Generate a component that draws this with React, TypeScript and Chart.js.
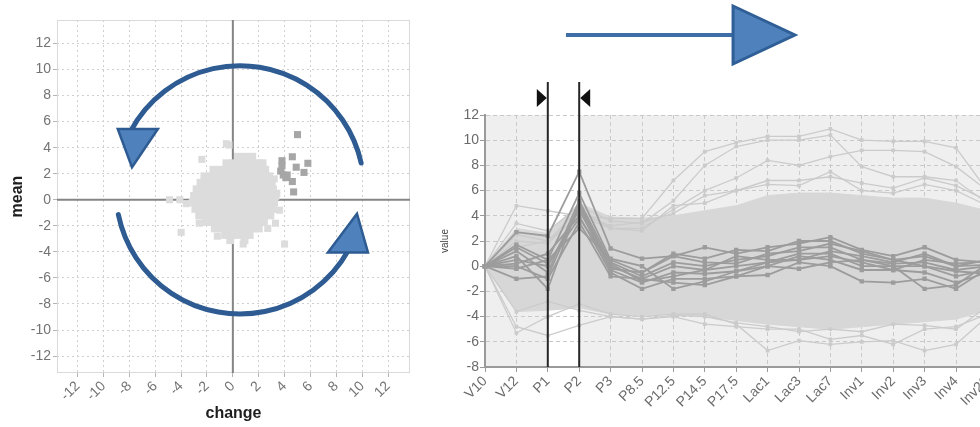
import React, { useEffect, useRef } from 'react';
import { Chart, registerables } from 'chart.js';

Chart.register(...registerables);

const FONT = '"Liberation Sans", Arial, sans-serif';

// ---------- Left: scatter (change vs mean) ----------
const scatterTicks = [-12, -10, -8, -6, -4, -2, 0, 2, 4, 6, 8, 10, 12];

const blobRowY = [3.3, 2.8, 2.3, 1.8, 1.3, 0.8, 0.3, -0.2, -0.7, -1.2, -1.7, -2.2, -2.7, -3.1];
const blobRowX = [
  [0.4, 1.0, 1.5],
  [-0.5, 0.0, 0.5, 1.0, 1.5, 2.0, 2.3],
  [-1.5, -1.0, -0.5, 0.0, 0.5, 1.0, 1.5, 2.0, 2.5],
  [-2.2, -1.7, -1.2, -0.7, -0.2, 0.3, 0.8, 1.3, 1.8, 2.3, 2.8],
  [-2.5, -2.0, -1.5, -1.0, -0.5, 0.0, 0.5, 1.0, 1.5, 2.0, 2.5, 3.0],
  [-2.8, -2.3, -1.8, -1.3, -0.8, -0.3, 0.2, 0.7, 1.2, 1.7, 2.2, 2.7, 3.1],
  [-3.0, -2.5, -2.0, -1.5, -1.0, -0.5, 0.0, 0.5, 1.0, 1.5, 2.0, 2.5, 3.0, 3.3],
  [-3.1, -2.6, -2.1, -1.6, -1.1, -0.6, -0.1, 0.4, 0.9, 1.4, 1.9, 2.4, 2.9, 3.2],
  [-2.9, -2.4, -1.9, -1.4, -0.9, -0.4, 0.1, 0.6, 1.1, 1.6, 2.1, 2.6, 3.1],
  [-2.6, -2.1, -1.6, -1.1, -0.6, -0.1, 0.4, 0.9, 1.4, 1.9, 2.4, 2.9],
  [-2.1, -1.6, -1.1, -0.6, -0.1, 0.4, 0.9, 1.4, 1.9, 2.4],
  [-1.4, -0.9, -0.4, 0.1, 0.6, 1.1, 1.6, 2.0],
  [-0.6, -0.1, 0.4, 0.9, 1.3],
  [-0.2, 0.9],
];

const lightOutliers = [
  [-0.5, 4.3], [-0.3, 4.2], [-2.4, 3.1], [-4.9, 0.0], [-4.1, 0.0], [-3.6, -0.3],
  [-4.0, -2.5], [4.0, -3.4], [0.8, -3.4], [3.4, 0.5], [3.3, -1.8], [2.7, -2.2],
  [-2.6, -1.8], [-1.2, -2.8], [3.2, 1.6], [3.6, -0.8],
];

const darkPoints = [
  [5.0, 5.0], [4.6, 3.3], [3.8, 3.0], [3.8, 2.6], [5.8, 2.8], [4.9, 2.5], [5.5, 2.1],
  [3.9, 1.9], [4.2, 1.9], [4.1, 1.7], [4.6, 1.4], [4.7, 0.6], [3.7, 2.2],
];

// rotation arrows (in data units of the scatter)
const arcCenter = { x: 0.55, y: 0.76 };
const arcRadius = 9.6;
const topArcDeg = [-12.5, -152];
const bottomArcDeg = [168.5, 29];
const headTopLeft = [[-8.9, 5.43], [-5.8, 5.43], [-7.8, 2.5]];
const headBottomRight = [[7.35, -4.05], [10.45, -4.05], [9.6, -1.07]];

// ---------- Right: profile (parallel coordinates) ----------
const stages = ['V10', 'V12', 'P1', 'P2', 'P3', 'P8.5', 'P12.5', 'P14.5', 'P17.5', 'Lac1', 'Lac3', 'Lac7', 'Inv1', 'Inv2', 'Inv3', 'Inv4', 'Inv20'];

const bandUpper = [0, 3.0, 2.6, 5.0, 3.9, 3.8, 4.0, 4.4, 4.8, 5.6, 5.8, 5.8, 5.6, 5.4, 5.4, 5.0, 4.4];
const bandLower = [0, -3.6, -3.5, -3.3, -3.8, -3.9, -3.8, -4.0, -4.3, -4.6, -4.8, -5.0, -4.8, -4.6, -4.4, -4.2, -3.5];

const lightLines = [
  [0, 4.8, 4.4, 4.0, 3.8, 3.8, 6.8, 9.1, 9.8, 10.3, 10.3, 10.9, 10.0, 9.9, 9.9, 9.4, 6.0],
  [0, 3.4, 2.8, 4.8, 3.6, 3.4, 5.2, 8.0, 9.5, 10.0, 10.0, 10.4, 7.9, 7.1, 7.1, 6.8, 5.0],
  [0, 2.5, 2.0, 4.5, 3.0, 3.0, 4.5, 6.0, 7.0, 8.4, 8.0, 8.7, 9.2, 9.2, 9.1, 7.9, 6.0],
  [0, 2.0, 1.8, 4.2, 3.2, 3.5, 4.2, 5.6, 6.0, 6.8, 6.8, 7.1, 6.6, 6.2, 7.0, 6.4, 5.2],
  [0, 1.5, 2.0, 4.0, 3.0, 2.8, 4.8, 5.0, 6.0, 6.5, 6.4, 7.5, 6.0, 5.8, 6.5, 6.0, 4.8],
  [0, -5.3, -4.0, -3.0, -3.8, -4.0, -3.8, -3.8, -4.6, -6.7, -5.9, -6.2, -6.0, -5.9, -6.7, -6.2, -4.0],
  [0, -4.8, -5.5, -4.7, -4.0, -4.2, -4.0, -4.6, -4.8, -5.0, -5.0, -5.8, -5.5, -6.2, -5.0, -4.8, -3.8],
  [0, -3.6, -2.8, -3.5, -4.0, -4.2, -3.9, -4.0, -4.5, -4.8, -5.2, -5.0, -5.2, -4.6, -4.7, -5.0, -3.2],
];

const darkLines = [
  [0, 2.7, 2.4, 7.5, 1.4, 0.6, 0.8, 1.5, 1.0, 1.5, 1.8, 2.3, 1.3, 0.8, 1.5, 0.5, 0.3],
  [0, 1.7, 0.5, 5.8, 0.5, -0.5, 1.0, 0.6, 1.3, 1.2, 2.0, 2.0, 1.0, 0.5, 0.8, 0.0, 0.5],
  [0, 1.2, -0.5, 5.2, 0.3, -0.8, 0.3, 0.0, 0.5, 0.8, 1.5, 1.5, 0.5, 0.2, 0.3, -0.3, 0.0],
  [0, 0.8, -1.8, 5.0, 0.0, -1.0, 0.0, -0.3, 0.0, 0.3, 1.0, 1.0, 0.0, 0.0, 0.0, -0.8, -0.3],
  [0, 0.5, 0.0, 4.5, -0.3, -1.3, -0.5, -0.6, -0.4, 0.0, 0.8, 0.5, -0.3, -0.3, -0.5, -1.3, -0.5],
  [0, 0.2, 1.0, 4.0, -0.5, -1.8, -1.0, -1.0, -0.8, -0.7, 0.3, 0.0, -1.2, -1.3, -1.0, -1.8, -0.2],
  [0, 0.0, -1.0, 3.5, -0.8, -1.0, -1.3, -1.5, -0.8, 0.0, -0.2, 0.3, 0.5, 0.0, -1.8, -1.5, 0.2],
  [0, -0.2, 0.5, 3.0, 0.6, 0.0, -1.8, -1.2, -0.4, 0.3, 0.5, 0.8, 0.3, -0.3, 0.5, 0.2, 0.4],
  [0, -1.0, -0.8, 4.8, -0.2, -0.5, 0.8, 0.3, 0.2, 1.0, 1.2, 1.8, 1.2, 0.5, 0.0, -0.4, -0.6],
  [0, 1.5, 0.2, 3.8, 0.2, -1.2, -0.8, -0.3, 0.8, 0.5, 0.5, 1.2, 0.8, 0.3, 1.0, 0.0, 0.1],
];

const brushStages = ['P1', 'P2'];
// direction arrow above profile chart (x in stage-index units, y in px from top)
const dirArrow = { start: 2.58, base: 7.9, tip: 9.87, y: 35, half: 29 };

const leftDecor = {
  id: 'leftDecor',
  beforeDatasetsDraw(chart: any) {
    const { ctx, chartArea: a, scales } = chart;
    const x = scales.x, y = scales.y;
    ctx.save();
    ctx.strokeStyle = '#d9d9d9';
    ctx.lineWidth = 1;
    ctx.strokeRect(a.left + 0.5, a.top + 0.5, a.right - a.left - 1, a.bottom - a.top - 1);
    const x0 = x.getPixelForValue(0);
    const y0 = y.getPixelForValue(0);
    ctx.strokeStyle = '#858585';
    ctx.lineWidth = 2;
    ctx.beginPath();
    ctx.moveTo(x0, a.top);
    ctx.lineTo(x0, a.bottom);
    ctx.moveTo(a.left, y0);
    ctx.lineTo(a.right, y0);
    ctx.stroke();
    ctx.restore();
  },
  afterDatasetsDraw(chart: any) {
    const { ctx, scales } = chart;
    const x = scales.x, y = scales.y;
    const cx = x.getPixelForValue(arcCenter.x);
    const cy = y.getPixelForValue(arcCenter.y);
    const r = Math.abs(x.getPixelForValue(arcCenter.x + arcRadius) - cx);
    const d = Math.PI / 180;
    ctx.save();
    ctx.strokeStyle = '#2d5b92';
    ctx.lineWidth = 5;
    ctx.lineCap = 'round';
    ctx.beginPath();
    ctx.arc(cx, cy, r, topArcDeg[0] * d, topArcDeg[1] * d, true);
    ctx.stroke();
    ctx.beginPath();
    ctx.arc(cx, cy, r, bottomArcDeg[0] * d, bottomArcDeg[1] * d, true);
    ctx.stroke();
    [headTopLeft, headBottomRight].forEach((tri) => {
      ctx.beginPath();
      tri.forEach((p, i) => {
        const px = x.getPixelForValue(p[0]);
        const py = y.getPixelForValue(p[1]);
        if (i === 0) ctx.moveTo(px, py); else ctx.lineTo(px, py);
      });
      ctx.closePath();
      ctx.fillStyle = '#4f81bd';
      ctx.fill();
      ctx.lineWidth = 2.5;
      ctx.lineJoin = 'miter';
      ctx.strokeStyle = '#2d5b92';
      ctx.stroke();
    });
    ctx.restore();
  },
};

const rightDecor = {
  id: 'rightDecor',
  beforeDraw(chart: any) {
    const { ctx, chartArea: a, scales } = chart;
    const x = scales.x;
    ctx.save();
    ctx.fillStyle = '#efefef';
    ctx.fillRect(a.left, a.top, a.right - a.left, a.bottom - a.top);
    const x1 = x.getPixelForValue(stages.indexOf(brushStages[0]));
    const x2 = x.getPixelForValue(stages.indexOf(brushStages[1]));
    ctx.fillStyle = '#ffffff';
    ctx.fillRect(x1, a.top, x2 - x1, a.bottom - a.top);
    ctx.restore();
  },
  afterDraw(chart: any) {
    const { ctx, chartArea: a, scales } = chart;
    const x = scales.x;
    const x1 = x.getPixelForValue(stages.indexOf(brushStages[0]));
    const x2 = x.getPixelForValue(stages.indexOf(brushStages[1]));
    ctx.save();
    ctx.strokeStyle = '#262626';
    ctx.lineWidth = 2;
    ctx.beginPath();
    ctx.moveTo(x1, 82);
    ctx.lineTo(x1, a.bottom);
    ctx.moveTo(x2, 82);
    ctx.lineTo(x2, a.bottom);
    ctx.stroke();
    ctx.fillStyle = '#111111';
    ctx.beginPath();
    ctx.moveTo(x1 - 11, 89);
    ctx.lineTo(x1 - 11, 107);
    ctx.lineTo(x1 - 1, 98);
    ctx.closePath();
    ctx.fill();
    ctx.beginPath();
    ctx.moveTo(x2 + 11, 89);
    ctx.lineTo(x2 + 11, 107);
    ctx.lineTo(x2 + 1, 98);
    ctx.closePath();
    ctx.fill();

    // direction arrow
    const xs = x.getPixelForValue(dirArrow.start);
    const xb = x.getPixelForValue(dirArrow.base);
    const xt = x.getPixelForValue(dirArrow.tip);
    ctx.strokeStyle = '#3d6ea8';
    ctx.lineWidth = 4;
    ctx.beginPath();
    ctx.moveTo(xs, dirArrow.y);
    ctx.lineTo(xb + 2, dirArrow.y);
    ctx.stroke();
    ctx.beginPath();
    ctx.moveTo(xb, dirArrow.y - dirArrow.half);
    ctx.lineTo(xt, dirArrow.y);
    ctx.lineTo(xb, dirArrow.y + dirArrow.half);
    ctx.closePath();
    ctx.fillStyle = '#4f81bd';
    ctx.fill();
    ctx.strokeStyle = '#2f5f96';
    ctx.lineWidth = 3;
    ctx.stroke();
    ctx.restore();
  },
};

export default function App() {
  const leftRef = useRef<HTMLCanvasElement>(null);
  const rightRef = useRef<HTMLCanvasElement>(null);

  useEffect(() => {
    Chart.defaults.font.family = FONT;

    const blob: { x: number; y: number }[] = [];
    blobRowY.forEach((yv, i) => blobRowX[i].forEach((xv) => blob.push({ x: xv, y: yv })));
    const toXY = (arr: number[][]) => arr.map((p) => ({ x: p[0], y: p[1] }));

    const tickFont = { size: 14, family: FONT };
    const setTicks = (s: any) => {
      s.ticks = scatterTicks.map((v) => ({ value: v }));
    };
    const gridColor = (c: any) => (c.tick && c.tick.value === 0 ? 'rgba(0,0,0,0)' : '#d0d0d0');

    const left = new Chart(leftRef.current!, {
      type: 'scatter',
      data: {
        datasets: [
          { data: blob, pointStyle: 'rect', pointRadius: 5.6, backgroundColor: '#dcdcdc', borderColor: '#dcdcdc', pointBorderWidth: 0 },
          { data: toXY(lightOutliers), pointStyle: 'rect', pointRadius: 5, backgroundColor: '#dcdcdc', borderColor: '#dcdcdc', pointBorderWidth: 0 },
          { data: toXY(darkPoints), pointStyle: 'rect', pointRadius: 5, backgroundColor: '#a6a6a6', borderColor: '#a6a6a6', pointBorderWidth: 0 },
        ],
      } as any,
      options: {
        animation: false,
        responsive: false,
        maintainAspectRatio: false,
        events: [],
        layout: { padding: { left: 0, right: 10, top: 20, bottom: 0 } },
        plugins: { legend: { display: false }, tooltip: { enabled: false } },
        scales: {
          x: {
            type: 'linear',
            min: -13.6,
            max: 13.7,
            afterBuildTicks: setTicks,
            afterFit: (s: any) => { s.height = 54; s.paddingLeft = 0; s.paddingRight = 0; },
            ticks: { minRotation: 45, maxRotation: 45, font: tickFont, color: '#737373', padding: 1 },
            grid: { color: gridColor, lineWidth: 1, tickLength: 4, tickColor: '#b5b5b5' },
            border: { display: false, dash: [2, 3] },
            title: { display: true, text: 'change', color: '#1e1e1e', font: { size: 16, weight: 'bold', family: FONT }, padding: { top: 0, bottom: 4 } },
          },
          y: {
            type: 'linear',
            min: -13.3,
            max: 13.8,
            afterBuildTicks: setTicks,
            afterFit: (s: any) => { s.width = 57; s.paddingTop = 0; s.paddingBottom = 0; },
            ticks: { font: tickFont, color: '#737373', padding: 2 },
            grid: { color: gridColor, lineWidth: 1, tickLength: 4, tickColor: '#b5b5b5' },
            border: { display: false, dash: [2, 3] },
            title: { display: true, text: 'mean', color: '#1e1e1e', font: { size: 16, weight: 'bold', family: FONT }, padding: { top: 8, bottom: 0 } },
          },
        },
      } as any,
      plugins: [leftDecor],
    });

    const bandStyle = { pointRadius: 0, borderWidth: 1, borderColor: '#d7d7d7', backgroundColor: '#d7d7d7', tension: 0, order: 3 };
    const right = new Chart(rightRef.current!, {
      type: 'line',
      data: {
        labels: stages,
        datasets: [
          { ...bandStyle, data: bandUpper, fill: '+1' },
          { ...bandStyle, data: bandLower, fill: false },
          ...lightLines.map((d) => ({
            data: d, borderColor: '#cbcbcb', backgroundColor: '#cbcbcb', pointBorderColor: '#cbcbcb',
            borderWidth: 1.3, pointStyle: 'rect', pointRadius: 2.6, pointBorderWidth: 0, fill: false, tension: 0, order: 2,
          })),
          ...darkLines.map((d) => ({
            data: d, borderColor: '#9c9c9c', backgroundColor: '#9c9c9c', pointBorderColor: '#9c9c9c',
            borderWidth: 1.8, pointStyle: 'rect', pointRadius: 3.1, pointBorderWidth: 0, fill: false, tension: 0, order: 1,
          })),
        ],
      } as any,
      options: {
        animation: false,
        responsive: false,
        maintainAspectRatio: false,
        events: [],
        layout: { padding: { left: 0, right: 22.6, top: 115, bottom: 0 } },
        plugins: { legend: { display: false }, tooltip: { enabled: false } },
        scales: {
          x: {
            type: 'category',
            offset: false,
            afterFit: (s: any) => { s.height = 60; s.paddingLeft = 0; s.paddingRight = 0; },
            ticks: { autoSkip: false, minRotation: 45, maxRotation: 45, font: tickFont, color: '#6b6b6b', padding: 1 },
            grid: { color: '#c9c9c9', lineWidth: 1, tickLength: 5, tickColor: '#9a9a9a' },
            border: { display: true, color: '#9a9a9a', width: 2, dash: [4, 3] },
          },
          y: {
            type: 'linear',
            min: -8,
            max: 12,
            afterFit: (s: any) => { s.width = 55; s.paddingTop = 0; s.paddingBottom = 0; },
            ticks: { stepSize: 2, font: tickFont, color: '#6b6b6b', padding: 1 },
            grid: { color: '#c9c9c9', lineWidth: 1, tickLength: 5, tickColor: '#9a9a9a' },
            border: { display: true, color: '#9a9a9a', width: 2, dash: [4, 3] },
            title: { display: true, text: 'value', color: '#444', font: { size: 10, family: FONT }, padding: { top: 9, bottom: 0 } },
          },
        },
      } as any,
      plugins: [rightDecor],
    });

    return () => {
      left.destroy();
      right.destroy();
    };
  }, []);

  return (
    <div style={{ position: 'absolute', left: 0, top: 0, width: 980, height: 427, overflow: 'hidden', background: '#ffffff' }}>
      <canvas ref={leftRef} width={420} height={427} style={{ position: 'absolute', left: 0, top: 0 }} />
      <canvas ref={rightRef} width={580} height={427} style={{ position: 'absolute', left: 430, top: 0 }} />
    </div>
  );
}
